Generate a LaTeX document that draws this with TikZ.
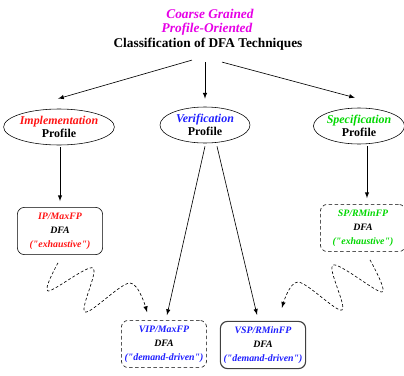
\documentclass[tikz,border=0pt]{standalone}
\usepackage{fontspec}
\setmainfont{Liberation Serif}[Ligatures=TeXOff]
\usepackage{xcolor}
\usetikzlibrary{arrows,shapes,positioning,calc}

\definecolor{titlemag}{RGB}{230,0,230}
\definecolor{implred}{RGB}{255,20,20}
\definecolor{verblue}{RGB}{30,30,255}
\definecolor{specgreen}{RGB}{0,215,0}

\begin{document}
\begin{tikzpicture}[x=0.025cm,y=-0.025cm,>=latex,
  profile/.style={ellipse,draw,line width=.4pt,minimum width=2.25cm,minimum height=0.9cm,inner sep=0pt,align=center,font=\fontsize{8.5}{9.5}\selectfont\bfseries},
  dfabox/.style={draw,rounded corners=5pt,minimum width=2.13cm,minimum height=1.18cm,inner sep=1pt,align=center,font=\fontsize{7}{10}\selectfont\bfseries\itshape},
  flow/.style={->,line width=.45pt},
  weak/.style={->,line width=.45pt,dash pattern=on 2pt off 1.5pt}]
\useasboundingbox (0,0) rectangle (404,376);

% titel
\node[font=\fontsize{9.5}{10}\selectfont\bfseries\itshape,text=titlemag] (grain) at (210,14) {Coarse Grained};
\node[font=\fontsize{9.5}{10}\selectfont\bfseries\itshape,text=titlemag] (orient) at (207,29) {Profile-Oriented};
\node[font=\fontsize{9.5}{10}\selectfont\bfseries] (cls) at (208,44) {Classification of DFA Techniques};

% profile
\node[profile] (impl) at (59,127) {\textcolor{implred}{\itshape Implementation}\\Profile};
\node[profile] (verif) at (205,125) {\textcolor{verblue}{\itshape Verification}\\Profile};
\node[profile] (spec) at (359,126) {\textcolor{specgreen}{\itshape Specification}\\Profile};

% dfa
\node[dfabox] (ip) at (60,231) {\textcolor{implred}{IP/MaxFP}\\DFA\\\textcolor{implred}{("exhaustive")}};
\node[dfabox,dash pattern=on 2.5pt off 1.8pt] (sp) at (363,228) {\textcolor{specgreen}{SP/RMinFP}\\DFA\\\textcolor{specgreen}{("exhaustive")}};
\node[dfabox,dash pattern=on 2.5pt off 1.8pt] (vip) at (164,344) {\textcolor{verblue}{VIP/MaxFP}\\DFA\\\textcolor{verblue}{("demand-driven")}};
\node[dfabox,draw=black!75,line width=.8pt] (vsp) at (263,345) {\textcolor{verblue}{VSP/RMinFP}\\DFA\\\textcolor{verblue}{("demand-driven")}};

% titel -> profile
\draw[flow] ($(cls.south)+(-16,5)$) -- ($(impl.north)+(-1,-10)$);
\draw[flow] ($(cls.south)+(-3,7)$) -- ($(verif.north)+(0,-8)$);
\draw[flow] ($(cls.south)+(14,7)$) -- ($(spec.north)+(-4,-10)$);

% profile -> dfa
\draw[flow] ($(impl.south)+(1,2)$) -- ($(ip.north)+(0,-6)$);
\draw[flow] ($(spec.south)+(8,2)$) -- ($(sp.north)+(4,-6)$);
\draw[flow] ($(verif.south)+(0,3)$) -- ($(vip.north)+(3,-5)$);
\draw[flow] ($(verif.south)+(12,3)$) -- ($(vsp.north)+(-6,-6)$);

% ... spiral (IP -> VIP)
\draw[weak] plot[smooth,tension=.55] coordinates {($(ip.south)+(-2,8)$) (48,291) (93,268) (85,312) (130,283) ($(vip.north)+(-17,-8)$)};
% ... spiral (SP -> VSP)
\draw[weak] plot[smooth,tension=.55] coordinates {($(sp.south)+(7,8)$) (382,292) (333,265) (342,310) (298,282) ($(vsp.north)+(19,-13)$)};

\end{tikzpicture}
\end{document}
